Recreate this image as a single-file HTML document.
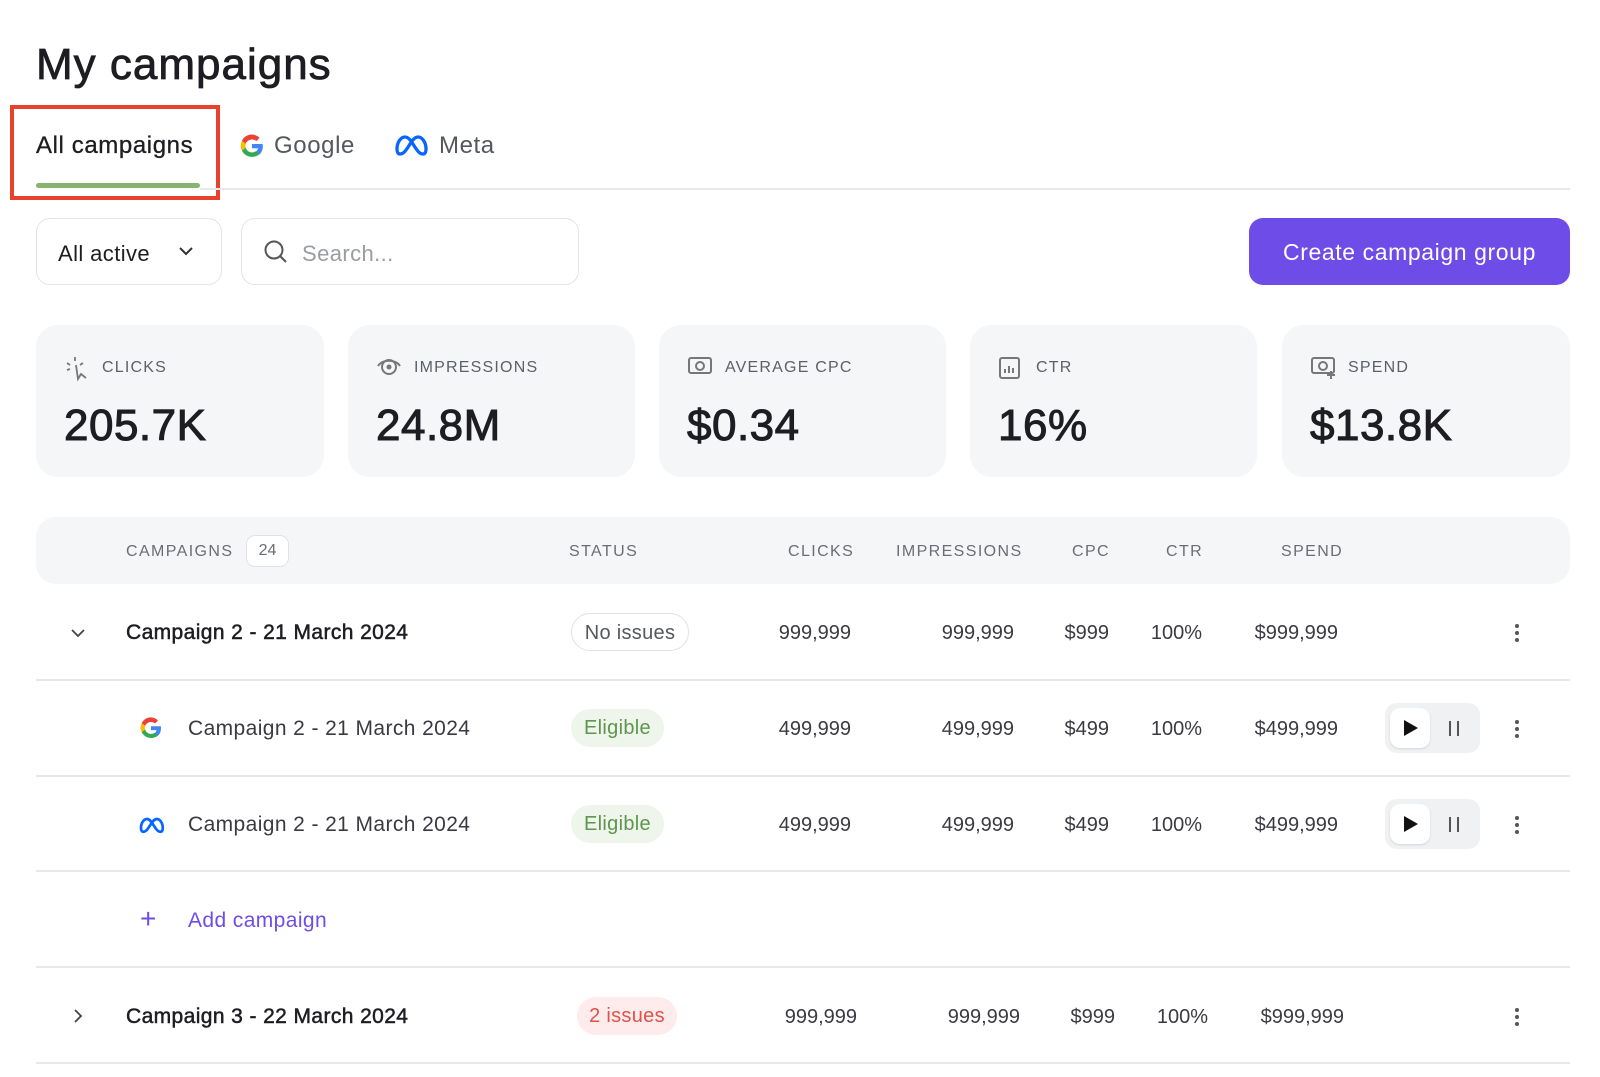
<!DOCTYPE html>
<html><head><meta charset="utf-8"><style>
*{box-sizing:border-box;margin:0;padding:0}
body{width:1600px;height:1077px;background:#fff;font-family:"Liberation Sans",sans-serif;color:#1d1d22;position:relative;overflow:hidden}
.a{position:absolute;white-space:nowrap}
.card{position:absolute;top:325px;height:152px;background:#f5f6f8;border-radius:22px}
.card .l{position:absolute;left:66px;top:34px;font-size:16px;letter-spacing:1.2px;color:#5d6068}
.card .v{position:absolute;left:28px;top:76px;font-size:44px;letter-spacing:0.5px;-webkit-text-stroke:1px #1d1d22;color:#1d1d22}
.card svg{position:absolute;left:28px;top:30px}
.h{position:absolute;top:543px;font-size:16px;letter-spacing:1.4px;color:#6a6d75}
.line{position:absolute;left:36px;width:1534px;height:2px;background:#e7e8eb}
.n{position:absolute;font-size:20px;color:#3a3b40;text-align:right;width:120px}
.name{position:absolute;font-size:21px;letter-spacing:0.4px;color:#1d1d22}
.pill{position:absolute;height:38px;border-radius:19px;font-size:20px;line-height:38px;text-align:center;letter-spacing:0.3px}
.dots{position:absolute;left:1514px;width:6px}
.dots i{display:block;width:4px;height:4px;background:#555;border-radius:50%;margin:0 0 3px 1px}
.tg{position:absolute;left:1385px;width:95px;height:50px;background:#f0f1f3;border-radius:12px}
.tg .w{position:absolute;left:5px;top:5px;width:40px;height:40px;background:#fff;border-radius:10px;box-shadow:0 1px 2px rgba(0,0,0,.12)}
.tg .w:after{content:"";position:absolute;left:14px;top:12px;border-left:14px solid #111;border-top:8px solid transparent;border-bottom:8px solid transparent}
.tg .p{position:absolute;left:64px;top:18px;width:10px;height:15px;border-left:2.5px solid #555;border-right:2.5px solid #555}
</style></head><body>
<div class="a" style="left:36px;top:40px;font-size:44px;letter-spacing:1px;-webkit-text-stroke:0.8px #1d1d22">My campaigns</div>
<div class="a" style="left:36px;top:132px;font-size:24px;letter-spacing:0.6px;-webkit-text-stroke:0.3px #1d1d22">All campaigns</div>
<div class="a" style="left:36px;top:183px;width:164px;height:5px;background:#86b56f;border-radius:3px"></div>
<div class="a" style="left:10px;top:105px;width:210px;height:95px;border:4px solid #e8412c"></div>
<svg class="a" style="left:239px;top:133px" width="26" height="26" viewBox="0 0 24 24"><path d="M22 12.2c0-.7-.1-1.4-.2-2H12v3.9h5.6a4.8 4.8 0 0 1-2.1 3.1v2.6h3.4c2-1.8 3.1-4.5 3.1-7.6z" fill="#4285F4"/><path d="M12 22c2.8 0 5.2-.9 6.9-2.5l-3.4-2.6c-.9.6-2.1 1-3.5 1-2.7 0-5-1.8-5.8-4.3H2.7v2.7A10 10 0 0 0 12 22z" fill="#34A853"/><path d="M6.2 13.6a6 6 0 0 1 0-3.8V7.1H2.7a10 10 0 0 0 0 9.2z" fill="#FBBC05"/><path d="M12 6c1.5 0 2.9.5 4 1.5l3-3A10 10 0 0 0 2.7 7.1l3.5 2.7C7 7.8 9.3 6 12 6z" fill="#EA4335"/></svg>
<div class="a" style="left:274px;top:132px;font-size:24px;letter-spacing:0.6px;color:#55575e">Google</div>
<svg class="a" style="left:394px;top:133px" width="34" height="24" viewBox="0 0 34 24"><path d="M3 16c0-7 4-12 8-12 5 0 8 8 12 13 2 3 4 4 6 4 2 0 3-2 3-5 0-7-4-12-8-12-5 0-8 8-12 13-2 3-4 4-6 4-2 0-3-2-3-5z" fill="none" stroke="#0866ff" stroke-width="3.3"/></svg>
<div class="a" style="left:439px;top:132px;font-size:24px;letter-spacing:0.6px;color:#55575e">Meta</div>
<div class="a" style="left:200px;top:188px;width:1370px;height:2px;background:#e7e8eb"></div>
<div class="a" style="left:36px;top:218px;width:186px;height:67px;border:1.5px solid #e3e4e8;border-radius:14px"></div>
<div class="a" style="left:58px;top:241px;font-size:22px;letter-spacing:0.4px">All active</div>
<svg class="a" style="left:178px;top:245px" width="16" height="12"><path d="M2 3l6 6 6-6" fill="none" stroke="#333" stroke-width="2"/></svg>
<div class="a" style="left:241px;top:218px;width:338px;height:67px;border:1.5px solid #e3e4e8;border-radius:14px"></div>
<svg class="a" style="left:263px;top:239px" width="26" height="26"><circle cx="11" cy="11" r="8.5" fill="none" stroke="#555" stroke-width="2"/><path d="M17 17l6 6" stroke="#555" stroke-width="2"/></svg>
<div class="a" style="left:302px;top:241px;font-size:22px;letter-spacing:0.4px;color:#9a9ca3">Search...</div>
<div class="a" style="left:1249px;top:218px;width:321px;height:67px;background:#6d4ce8;border-radius:14px;color:#fff;font-size:23px;letter-spacing:0.6px;text-align:center;line-height:69px">Create campaign group</div>

<div class="card" style="left:36px;width:288px"><svg width="26" height="28"><path d="M11 2v4M3 8l3 2M19 8l-3 2M3 15l3-1M12 10l2 14 3-5 5 4" fill="none" stroke="#777" stroke-width="1.8"/></svg><div class="l">CLICKS</div><div class="v">205.7K</div></div>
<div class="card" style="left:348px;width:287px"><svg width="28" height="24"><path d="M2 11c4-7 18-7 22 0" fill="none" stroke="#777" stroke-width="2"/><circle cx="13" cy="12" r="7" fill="none" stroke="#777" stroke-width="2"/><circle cx="13" cy="12" r="2.5" fill="#777"/></svg><div class="l">IMPRESSIONS</div><div class="v">24.8M</div></div>
<div class="card" style="left:659px;width:287px"><svg width="28" height="24"><rect x="2" y="3" width="22" height="15" rx="2" fill="none" stroke="#777" stroke-width="2"/><circle cx="13" cy="11" r="4" fill="none" stroke="#777" stroke-width="2"/></svg><div class="l">AVERAGE CPC</div><div class="v">$0.34</div></div>
<div class="card" style="left:970px;width:287px"><svg width="26" height="26"><rect x="2" y="3" width="19" height="20" rx="2" fill="none" stroke="#777" stroke-width="2"/><path d="M7 18v-4M11 18v-7M15 18v-5" stroke="#777" stroke-width="2"/></svg><div class="l">CTR</div><div class="v">16%</div></div>
<div class="card" style="left:1282px;width:288px"><svg width="28" height="26"><rect x="2" y="3" width="22" height="15" rx="2" fill="none" stroke="#777" stroke-width="2"/><circle cx="13" cy="11" r="4" fill="none" stroke="#777" stroke-width="2"/><path d="M21 16v8M17 20h8" stroke="#777" stroke-width="2"/></svg><div class="l">SPEND</div><div class="v">$13.8K</div></div>

<div class="a" style="left:36px;top:517px;width:1534px;height:67px;background:#f5f6f8;border-radius:20px"></div>
<div class="h" style="left:126px">CAMPAIGNS</div>
<div class="a" style="left:246px;top:535px;width:43px;height:32px;border:1.5px solid #e1e2e6;border-radius:9px;background:#fff;font-size:16px;color:#6a6d75;text-align:center;line-height:30px">24</div>
<div class="h" style="left:569px">STATUS</div>
<div class="h" style="left:788px">CLICKS</div>
<div class="h" style="left:896px">IMPRESSIONS</div>
<div class="h" style="left:1072px">CPC</div>
<div class="h" style="left:1166px">CTR</div>
<div class="h" style="left:1281px">SPEND</div>

<!-- row1 -->
<svg class="a" style="left:70px;top:627px" width="16" height="12"><path d="M2 3l6 6 6-6" fill="none" stroke="#444" stroke-width="1.8"/></svg>
<div class="name" style="left:126px;top:621px;-webkit-text-stroke:0.5px #1d1d22">Campaign 2 - 21 March 2024</div>
<div class="pill" style="left:571px;top:613px;width:118px;border:1.5px solid #e1e2e6;color:#55575e">No issues</div>
<div class="n" style="left:731px;top:622px">999,999</div><div class="n" style="left:894px;top:622px">999,999</div><div class="n" style="left:989px;top:622px">$999</div><div class="n" style="left:1082px;top:622px">100%</div><div class="n" style="left:1218px;top:622px">$999,999</div>
<div class="dots" style="top:624px"><i></i><i></i><i></i></div>
<div class="line" style="top:679px"></div>
<!-- row2 -->
<svg class="a" style="left:139px;top:716px" width="24" height="24" viewBox="0 0 24 24"><path d="M22 12.2c0-.7-.1-1.4-.2-2H12v3.9h5.6a4.8 4.8 0 0 1-2.1 3.1v2.6h3.4c2-1.8 3.1-4.5 3.1-7.6z" fill="#4285F4"/><path d="M12 22c2.8 0 5.2-.9 6.9-2.5l-3.4-2.6c-.9.6-2.1 1-3.5 1-2.7 0-5-1.8-5.8-4.3H2.7v2.7A10 10 0 0 0 12 22z" fill="#34A853"/><path d="M6.2 13.6a6 6 0 0 1 0-3.8V7.1H2.7a10 10 0 0 0 0 9.2z" fill="#FBBC05"/><path d="M12 6c1.5 0 2.9.5 4 1.5l3-3A10 10 0 0 0 2.7 7.1l3.5 2.7C7 7.8 9.3 6 12 6z" fill="#EA4335"/></svg>
<div class="name" style="left:188px;top:717px;color:#3a3b40">Campaign 2 - 21 March 2024</div>
<div class="pill" style="left:571px;top:709px;width:93px;background:#eef5ea;color:#5f9550">Eligible</div>
<div class="n" style="left:731px;top:718px">499,999</div><div class="n" style="left:894px;top:718px">499,999</div><div class="n" style="left:989px;top:718px">$499</div><div class="n" style="left:1082px;top:718px">100%</div><div class="n" style="left:1218px;top:718px">$499,999</div>
<div class="tg" style="top:703px"><div class="w"></div><div class="p"></div></div>
<div class="dots" style="top:720px"><i></i><i></i><i></i></div>
<div class="line" style="top:775px"></div>
<!-- row3 -->
<svg class="a" style="left:138px;top:816px" width="27" height="18" viewBox="0 0 34 24"><path d="M3 16c0-7 4-12 8-12 5 0 8 8 12 13 2 3 4 4 6 4 2 0 3-2 3-5 0-7-4-12-8-12-5 0-8 8-12 13-2 3-4 4-6 4-2 0-3-2-3-5z" fill="none" stroke="#0866ff" stroke-width="3.6"/></svg>
<div class="name" style="left:188px;top:813px;color:#3a3b40">Campaign 2 - 21 March 2024</div>
<div class="pill" style="left:571px;top:805px;width:93px;background:#eef5ea;color:#5f9550">Eligible</div>
<div class="n" style="left:731px;top:814px">499,999</div><div class="n" style="left:894px;top:814px">499,999</div><div class="n" style="left:989px;top:814px">$499</div><div class="n" style="left:1082px;top:814px">100%</div><div class="n" style="left:1218px;top:814px">$499,999</div>
<div class="tg" style="top:799px"><div class="w"></div><div class="p"></div></div>
<div class="dots" style="top:816px"><i></i><i></i><i></i></div>
<div class="line" style="top:870px"></div>
<!-- add -->
<div class="a" style="left:140px;top:905px;font-size:28px;color:#6d4ce8;line-height:28px">+</div>
<div class="name" style="left:188px;top:909px;color:#6d4ce8">Add campaign</div>
<div class="line" style="top:966px"></div>
<!-- row5 -->
<svg class="a" style="left:72px;top:1008px" width="12" height="16"><path d="M3 2l6 6-6 6" fill="none" stroke="#444" stroke-width="1.8"/></svg>
<div class="name" style="left:126px;top:1005px;-webkit-text-stroke:0.5px #1d1d22">Campaign 3 - 22 March 2024</div>
<div class="pill" style="left:577px;top:997px;width:100px;background:#fdeceb;color:#e0514a">2 issues</div>
<div class="n" style="left:737px;top:1006px">999,999</div><div class="n" style="left:900px;top:1006px">999,999</div><div class="n" style="left:995px;top:1006px">$999</div><div class="n" style="left:1088px;top:1006px">100%</div><div class="n" style="left:1224px;top:1006px">$999,999</div>
<div class="dots" style="top:1008px"><i></i><i></i><i></i></div>
<div class="line" style="top:1062px"></div>
</body></html>
